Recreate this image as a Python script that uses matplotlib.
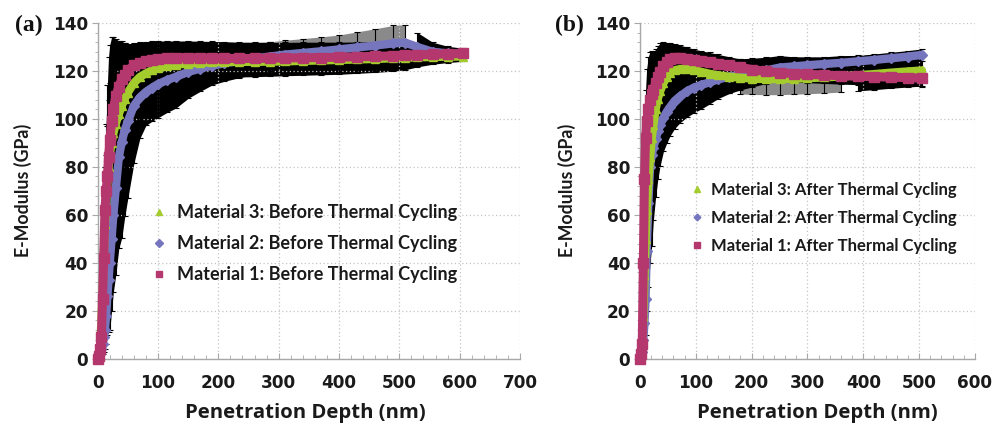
import matplotlib
matplotlib.use('Agg')
import matplotlib.pyplot as plt
import numpy as np
from matplotlib.ticker import MultipleLocator
from matplotlib.lines import Line2D

# ---------------- data ----------------
depth_a = [0, 2, 4, 6, 8, 10, 12, 14, 16, 18, 20, 23, 26, 30, 35, 40, 45, 50, 60, 70,
           80, 90, 100, 115, 130, 150, 170, 190, 210, 235, 260, 285, 310, 340, 370, 400,
           430, 460, 490, 510, 530, 555, 580, 605]
m1_a = [0, 1, 4, 9, 25, 42, 62, 70, 76, 84, 91, 99, 104, 109.5, 113.5, 116.5, 118.5, 120.2,
        122.3, 123.5, 124.2, 124.7, 125, 125.3, 125.5, 125.5, 125.4, 125.3, 125.2, 125.2,
        125.2, 125.3, 125.4, 125.5, 125.6, 125.7, 125.9, 126.1, 126.3, 126.5, 126.7, 126.9,
        127.1, 127.3]
m1_a_err = [0, 1, 2, 4, 6, 10, 18, 28, 38, 42, 40, 35, 30, 24, 19, 16, 13, 11, 9.5, 8.5,
            8, 7.8, 7.5, 7.2, 7, 7, 7, 7, 7, 6.8, 6.8, 6.6, 6.5, 6.5, 6.4, 6.3, 6.2, 6.1,
            6, 5, 4, 3, 2.5, 2]
m2_a = [0, 1, 2, 4, 6, 9, 12, 18, 26, 33, 40, 50, 60, 71, 84, 90.5, 95.5, 99, 105.5, 109,
        111.3, 113, 114.5, 116.2, 117.6, 119.6, 121, 122.2, 123.2, 124.2, 125.2, 126, 126.8,
        127.5, 128.2, 129, 129.8, 130.6, 131.5, 131.8, 130, 128, 127.3, 127]
m2_a_err = [0, 1, 2, 3, 4, 6, 8, 12, 16, 22, 28, 30, 32, 36, 38, 40, 36, 32, 24, 17,
            14, 14, 14, 13.5, 13, 11, 9.5, 8, 7.5, 7, 6.5, 6.2, 6, 6, 6, 6, 6.5, 7, 7.5,
            7.5, 6, 4, 3, 2.5]
m3_a = [0, 1, 5, 15, 28, 42, 56, 65, 73, 80, 85, 90, 94, 98, 102, 105.5, 108.5, 111, 115,
        117.5, 119, 120.3, 121.2, 122, 122.6, 123.1, 123.4, 123.6, 123.7, 123.8, 123.8,
        123.9, 124, 124.2, 124.4, 124.6, 124.8, 125, 125.3, 125.5, 125.7, 125.8, 126, 126]
m3_a_err = [0, 1, 2, 5, 8, 12, 16, 20, 24, 28, 30, 30, 28, 25, 22, 19, 16, 14, 11, 9.5,
            8.5, 8, 7.5, 7.2, 7, 6.8, 6.6, 6.5, 6.4, 6.3, 6.2, 6.1, 6, 6, 6, 6, 5.8, 5.6,
            5.4, 5, 4, 3, 2.5, 2]

depth_b = [0, 2, 4, 6, 8, 10, 12, 15, 18, 21, 24, 28, 32, 36, 42, 48, 54, 62, 72, 84,
           96, 110, 125, 140, 160, 180, 200, 225, 250, 275, 300, 330, 360, 390, 420, 450,
           480, 505]
m1_b = [0, 2, 6, 40, 75, 92, 99, 104, 108, 110.5, 112, 115, 117.5, 119.5, 122, 123.8,
        124.8, 125.2, 125.2, 125, 124.6, 124.2, 123.7, 123.1, 122.3, 121.5, 120.6, 119.8,
        119.3, 118.9, 118.6, 118.3, 118, 117.8, 117.6, 117.4, 117.2, 117]
m1_b_err = [0, 1, 3, 10, 15, 20, 22, 22, 20, 18, 16, 14, 13, 12, 10, 8, 7, 6, 5.5, 5,
            4.5, 4.2, 4, 3.8, 3.6, 3.5, 3.5, 3.5, 3.5, 3.5, 3.5, 3.5, 3.5, 3.5, 3.5, 3.5,
            3.5, 3.5]
m2_b = [0, 1, 3, 8, 15, 25, 45, 65, 80, 85, 88, 91.5, 95, 97.5, 100.5, 103, 105, 107.5,
        109.5, 111.5, 113, 114.2, 115.3, 116.5, 117.6, 118.6, 119.3, 120.2, 121.4, 121.9,
        122.4, 122.9, 123.4, 124, 124.6, 125.3, 126, 126.7]
m2_b_err = [0, 1, 2, 4, 8, 15, 25, 35, 40, 38, 30, 24, 20, 17, 14, 13, 12, 11.5, 11, 10.8,
            10.5, 10, 9, 8, 7, 6.5, 6, 5.5, 5, 4, 3.5, 3, 3, 2.5, 2.5, 2.5, 2.5, 2.5]
m3_b = [0, 1, 5, 18, 35, 50, 62, 75, 84, 92, 97.5, 104, 108.5, 111.5, 115, 117.5, 119.3,
        120.3, 120.8, 121, 120.5, 119.6, 118.8, 118.2, 117.6, 117.2, 116.8, 116.6, 116.6,
        116.8, 117, 117.3, 117.7, 118.2, 118.7, 119.3, 119.8, 120.2]
m3_b_err = [0, 1, 3, 8, 12, 15, 18, 20, 20, 18, 16, 14, 12, 11, 10, 9, 8, 8, 8, 8,
            8, 8, 7.5, 7.2, 7, 6.8, 6.6, 6.5, 6.5, 6.5, 6.5, 6.5, 6.5, 6.5, 6.5, 6.5,
            6.5, 6.5]

labels_a = ["Material 3: Before Thermal Cycling",
            "Material 2: Before Thermal Cycling",
            "Material 1: Before Thermal Cycling"]
labels_b = ["Material 3: After Thermal Cycling",
            "Material 2: After Thermal Cycling",
            "Material 1: After Thermal Cycling"]
x_label = "Penetration Depth (nm)"
y_label = "E-Modulus (GPa)"

# ---------------- style ----------------
W, H = 1003, 425
plt.rcParams['font.family'] = ['Lato', 'DejaVu Sans']
plt.rcParams['font.weight'] = 'bold'
C1 = '#B4386E'   # Material 1 (magenta, squares)
C2 = '#7676BE'   # Material 2 (blue-violet, diamonds)
C3 = '#A3CC2C'   # Material 3 (yellow-green, triangles)
GRAY = '#8a8a8a'
INK = '#1a1a1a'

fig = plt.figure(figsize=(W / 100, H / 100), dpi=100)


def rect(x0, y0, x1, y1):
    return [x0 / W, 1 - y1 / H, (x1 - x0) / W, (y1 - y0) / H]


def draw_panel(ax, depth, s1, e1, s2, e2, s3, e3, gray_idx, gray_lo, gray_hi, xmax,
               labels, leg_anchor, leg_size, leg_spacing, leg_pad, leg_ms):
    d = np.array(depth, float)
    series = [(np.array(s2), np.array(e2), C2, 'D', 5.0, 6.0),
              (np.array(s3), np.array(e3), C3, '^', 6.0, 6.0),
              (np.array(s1), np.array(e1), C1, 's', 7.0, 6.5)]
    # error envelopes
    for i, (v, e, c, m, ms, lw) in enumerate(series):
        if i == gray_idx:
            inside = (d >= gray_lo) & (d <= gray_hi)
            ax.fill_between(d, v - e, v + e, where=inside, color=GRAY, lw=0, zorder=1)
            ax.fill_between(d, v - e, v + e, where=d <= gray_lo, color='black',
                            lw=0, zorder=1.2)
            ax.fill_between(d, v - e, v + e, where=d >= gray_hi, color='black',
                            lw=0, zorder=1.2)
    for i, (v, e, c, m, ms, lw) in enumerate(series):
        if i != gray_idx:
            ax.fill_between(d, v - e, v + e, color='black', lw=0, zorder=1.5)
    for v, e, c, m, ms, lw in series:
        ax.errorbar(d, v, yerr=e, fmt='none', ecolor='black', elinewidth=0.8,
                    capsize=2.2, capthick=0.8, zorder=2)
    for k, (v, e, c, m, ms, lw) in enumerate(series):
        ax.plot(d, v, color=c, lw=lw, marker=m, ms=ms, mfc=c, mec=c,
                solid_capstyle='round', zorder=3 + k, clip_on=False)

    ax.set_xlim(0, xmax)
    ax.set_ylim(0, 140)
    ax.xaxis.set_major_locator(MultipleLocator(100))
    ax.xaxis.set_minor_locator(MultipleLocator(20))
    ax.yaxis.set_major_locator(MultipleLocator(20))
    ax.yaxis.set_minor_locator(MultipleLocator(4))
    ax.grid(True, which='major', ls=(0, (1, 2)), color='#c4c4c4', lw=0.9, zorder=0)
    for sp in ['top', 'right']:
        ax.spines[sp].set_visible(False)
    for sp in ['left', 'bottom']:
        ax.spines[sp].set_color('#a8a8a8')
        ax.spines[sp].set_linewidth(1.0)
    ax.tick_params(axis='x', which='major', direction='in', length=4, color='#a8a8a8',
                   pad=11, labelcolor=INK)
    ax.tick_params(axis='x', which='minor', direction='in', length=3, color='#a8a8a8')
    ax.tick_params(axis='y', which='major', direction='out', length=4, color='#a8a8a8',
                   pad=3, labelcolor=INK)
    ax.tick_params(axis='y', which='minor', direction='out', length=2.5, color='#a8a8a8')
    for t in ax.get_xticklabels() + ax.get_yticklabels():
        t.set_fontfamily('DejaVu Sans')
        t.set_fontweight('bold')
        t.set_fontsize(12.2)

    handles = [Line2D([], [], ls='none', marker='^', ms=leg_ms[0], color=C3),
               Line2D([], [], ls='none', marker='D', ms=leg_ms[1], color=C2),
               Line2D([], [], ls='none', marker='s', ms=leg_ms[2], color=C1)]
    leg = ax.legend(handles, labels, loc='upper left', bbox_to_anchor=leg_anchor,
                    bbox_transform=fig.transFigure, frameon=False, borderpad=0,
                    borderaxespad=0, handlelength=1.0, handletextpad=leg_pad,
                    labelspacing=leg_spacing, prop={'size': leg_size, 'weight': 'bold'})
    for t in leg.get_texts():
        t.set_color(INK)


axa = fig.add_axes(rect(97.7, 23, 520, 358.7))
axb = fig.add_axes(rect(640, 23, 975, 358.7))

draw_panel(axa, depth_a, m1_a, m1_a_err, m2_a, m2_a_err, m3_a, m3_a_err,
           gray_idx=0, gray_lo=260, gray_hi=515, xmax=700, labels=labels_a,
           leg_anchor=(150 / W, 1 - 204 / H), leg_size=13, leg_spacing=0.78, leg_pad=0.5,
           leg_ms=(5.0, 3.6, 5.0))
draw_panel(axb, depth_b, m1_b, m1_b_err, m2_b, m2_b_err, m3_b, m3_b_err,
           gray_idx=1, gray_lo=170, gray_hi=380, xmax=600, labels=labels_b,
           leg_anchor=(689 / W, 1 - 182 / H), leg_size=12, leg_spacing=0.72, leg_pad=0.3,
           leg_ms=(4.5, 3.4, 4.8))

xt = dict(color=INK, fontweight='bold', fontsize=14.6, ha='center', va='center',
          family=['Open Sans', 'DejaVu Sans'])
fig.text(305 / W, 1 - 413 / H, x_label, **xt)
fig.text(817 / W, 1 - 413 / H, x_label, **xt)
yt = dict(color=INK, fontweight='bold', fontsize=12.8, ha='center', va='center',
          rotation=90, family=['Lato', 'DejaVu Sans'])
fig.text(23 / W, 1 - 190 / H, y_label, **yt)
fig.text(567 / W, 1 - 190 / H, y_label, **yt)

pan = dict(family='Liberation Serif', fontweight='bold', fontsize=17, color='#111111',
           ha='left', va='center')
fig.text(15 / W, 1 - 25 / H, '(a)', **pan)
fig.text(555 / W, 1 - 25 / H, '(b)', **pan)

fig.savefig('out.png', dpi=100)
